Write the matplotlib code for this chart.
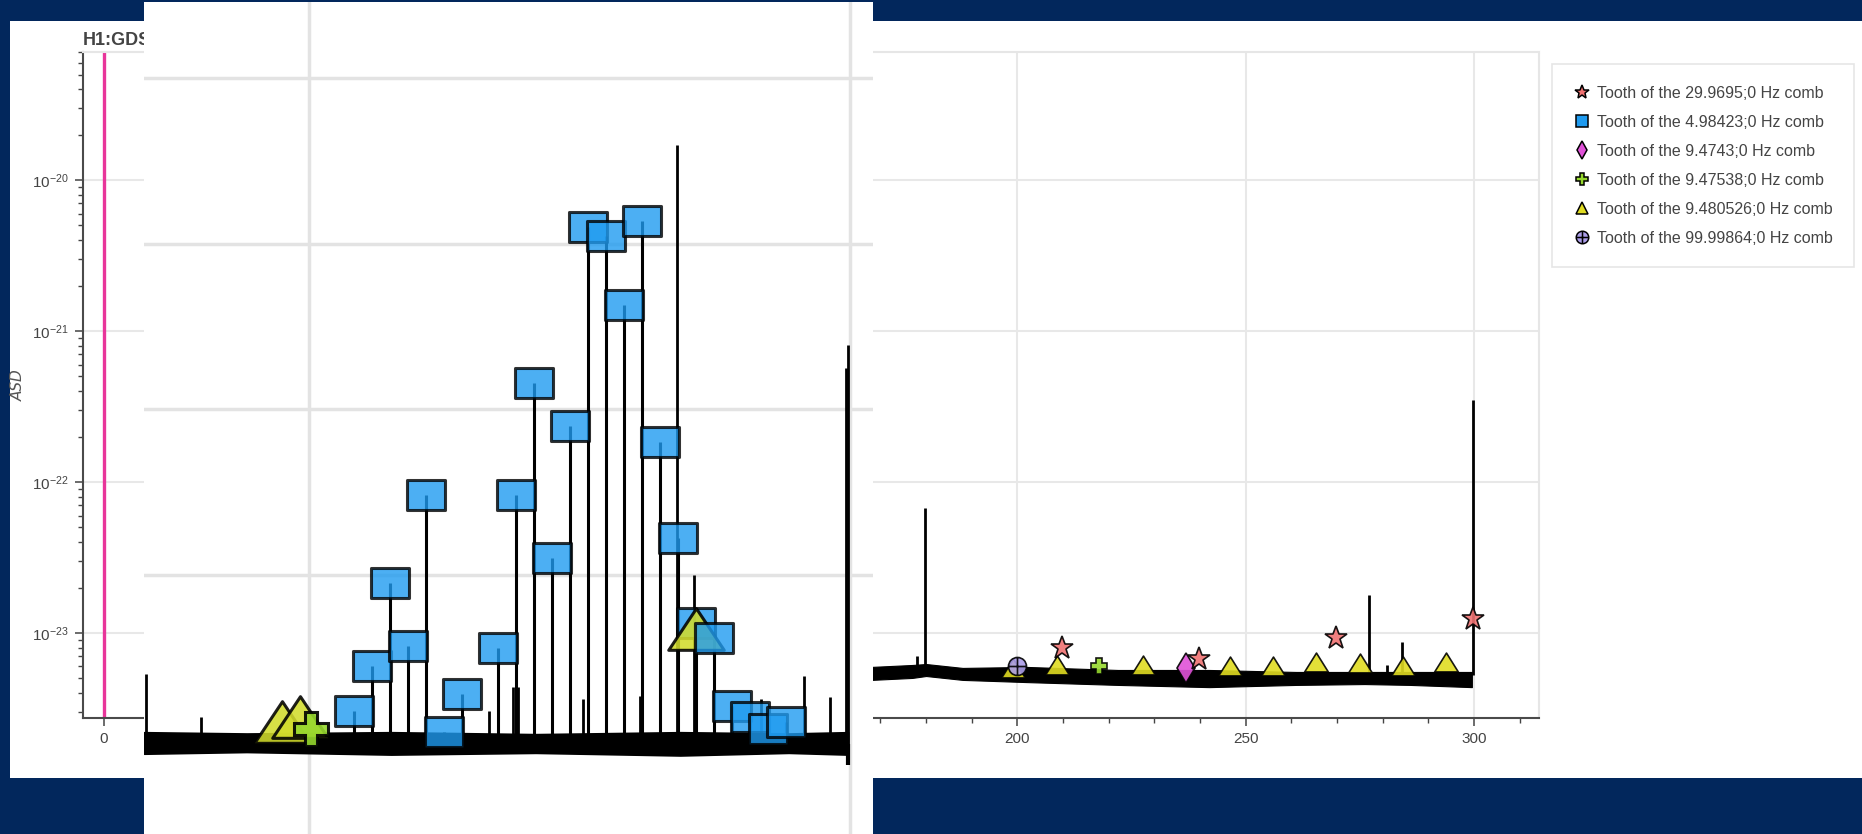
import matplotlib
matplotlib.use("Agg")
import matplotlib.pyplot as plt
from matplotlib.lines import Line2D
from matplotlib.patches import Rectangle
from matplotlib.path import Path
from matplotlib.ticker import FixedLocator, NullFormatter, NullLocator

plt.rcParams["font.family"] = ["Liberation Sans", "DejaVu Sans"]

# ---- main panel: H1 spectrum, right-hand part (Hz, strain ASD) ----
band_freq = [168, 177, 180, 188, 202, 222, 242, 261, 276, 286, 299.5]
band_upper = [5.96e-24, 6.14e-24, 6.23e-24, 5.87e-24, 5.96e-24, 5.69e-24, 5.69e-24, 5.52e-24, 5.52e-24, 5.52e-24, 5.52e-24]
band_lower = [4.89e-24, 5.04e-24, 5.19e-24, 4.89e-24, 4.73e-24, 4.53e-24, 4.38e-24, 4.53e-24, 4.59e-24, 4.53e-24, 4.38e-24]
line_freq = [178.1, 179.8, 276.9, 281.0, 284.2, 299.8]
line_peak = [7.08e-24, 6.76e-23, 1.78e-23, 6.17e-24, 8.71e-24, 3.47e-22]

comb_299_freq = [209.79, 239.76, 269.73, 299.70]
comb_299_asd = [7.94e-24, 6.76e-24, 9.33e-24, 1.23e-23]
comb_9474_freq = [236.86]
comb_9474_asd = [5.89e-24]
comb_9475_freq = [217.93]
comb_9475_asd = [6.03e-24]
comb_9481_freq = [199.09, 208.57, 227.53, 246.49, 255.97, 265.45, 274.93, 284.42, 293.90]
comb_9481_asd = [5.89e-24, 6.17e-24, 6.17e-24, 6.03e-24, 6.03e-24, 6.46e-24, 6.31e-24, 6.03e-24, 6.46e-24]
comb_100_freq = [199.997]
comb_100_asd = [6.03e-24]

x_major = [0, 50, 100, 150, 200, 250, 300]
x_minor = [10, 20, 30, 40, 60, 70, 80, 90, 110, 120, 130, 140, 160, 170, 180, 190,
           210, 220, 230, 240, 260, 270, 280, 290, 310]
y_major = [1e-23, 1e-22, 1e-21, 1e-20]
y_minor = [m * d for d in (1e-24, 1e-23, 1e-22, 1e-21, 1e-20) for m in range(2, 10)]

# ---- zoomed snapshot pasted over the left part ----
zoom_teeth = [20, 21, 22, 23, 24, 25, 26, 28, 29, 30, 31, 32, 33, 34, 35, 36, 37, 38, 39, 40, 41, 42, 43, 44]
zoom_tooth_asd = [1.51e-24, 2.82e-24, 8.91e-24, 3.72e-24, 3.02e-23, 1.12e-24, 1.91e-24, 3.63e-24,
                  3.02e-23, 1.45e-22, 1.26e-23, 7.94e-23, 1.26e-21, 1.12e-21, 4.27e-22, 1.38e-21,
                  6.31e-23, 1.66e-23, 5.13e-24, 4.17e-24, 1.62e-24, 1.38e-24, 1.17e-24, 1.29e-24]
zoom_spacing = 4.98423
zoom_band_freq = [41.6, 70, 110, 150, 190, 220, 236.4]
zoom_band_upper = [1.12e-24, 1.10e-24, 1.12e-24, 1.09e-24, 1.12e-24, 1.10e-24, 1.12e-24]
zoom_band_lower = [8.3e-25, 8.5e-25, 8.2e-25, 8.4e-25, 8.1e-25, 8.4e-25, 8.2e-25]
zoom_line_freq = [42.07, 57.37, 137.1, 143.7, 145.0, 163.2, 178.9, 189.1, 193.9, 212.2, 224.2, 231.4, 235.7, 236.4]
zoom_line_peak = [2.51e-24, 1.38e-24, 1.51e-24, 2.09e-24, 2.09e-24, 1.78e-24, 1.86e-24, 3.98e-21,
                  1.0e-23, 1.78e-24, 2.45e-24, 1.82e-24, 1.78e-22, 2.45e-22]
zoom_dip_freq = [236.4]
zoom_dip_asd = [7.1e-25]
zoom_tri_freq = [79.8, 84.8, 194.3]
zoom_tri_asd = [1.29e-24, 1.38e-24, 4.68e-24]
zoom_plus_freq = [87.8]
zoom_plus_asd = [1.17e-24]
zoom_grid_x = [87.3, 236.9]
zoom_grid_y = [1e-23, 1e-22, 1e-21, 1e-20]

legend_labels = [
    "Tooth of the 29.9695;0 Hz comb",
    "Tooth of the 4.98423;0 Hz comb",
    "Tooth of the 9.4743;0 Hz comb",
    "Tooth of the 9.47538;0 Hz comb",
    "Tooth of the 9.480526;0 Hz comb",
    "Tooth of the 99.99864;0 Hz comb",
]

NAVY = "#02275c"
C_STAR = "#f07272"
C_SQ = "#1f9bf0"
C_DIA = "#e052d8"
C_PLUS = "#96d82e"
C_TRI = "#e0dc22"
C_CIRC = "#ab9de8"

rect_marker = Path([(-1, -0.78), (1, -0.78), (1, 0.78), (-1, 0.78), (-1, -0.78)],
                   [Path.MOVETO, Path.LINETO, Path.LINETO, Path.LINETO, Path.CLOSEPOLY])
wide_tri = Path([(-1, -0.75), (1, -0.75), (0, 0.75), (-1, -0.75)],
                [Path.MOVETO, Path.LINETO, Path.LINETO, Path.CLOSEPOLY])
small_tri = Path([(-1, -0.8), (1, -0.8), (0, 0.8), (-1, -0.8)],
                 [Path.MOVETO, Path.LINETO, Path.LINETO, Path.CLOSEPOLY])
circle_cross = Path.make_compound_path(
    Path.unit_circle(),
    Path([(-1, 0), (1, 0)], [Path.MOVETO, Path.LINETO]),
    Path([(0, -1), (0, 1)], [Path.MOVETO, Path.LINETO]),
)

fig = plt.figure(figsize=(18.62, 8.34), dpi=100, facecolor=NAVY)
fig.add_artist(Rectangle((10 / 1862, 56 / 834), 1.0, 757 / 834, transform=fig.transFigure,
                         facecolor="white", edgecolor="none", zorder=0))

ax = fig.add_axes([83 / 1862, 116 / 834, 1456 / 1862, 666 / 834])
ax.set_zorder(1)
ax.set_yscale("log")
ax.set_xlim(-4.6, 314.2)
ax.set_ylim(10 ** -23.563, 10 ** -19.152)

ax.fill_between(band_freq, band_lower, band_upper, color="black", lw=0.8, zorder=2)
ax.vlines(line_freq, 5.3e-24, line_peak, color="black", lw=2.0, zorder=2)
ax.axvline(0, color="#e8359a", lw=2.4, zorder=2)

mk = dict(linestyle="none", markeredgecolor="black", markeredgewidth=1.2, alpha=0.9)
ax.plot(comb_9481_freq, comb_9481_asd, marker=small_tri, ms=17, color=C_TRI, zorder=3, **mk)
ax.plot(comb_9474_freq, comb_9474_asd, marker="d", ms=15, color=C_DIA, zorder=4, **mk)
ax.plot(comb_9475_freq, comb_9475_asd, marker="P", ms=12, color=C_PLUS, zorder=4, **mk)
ax.plot(comb_100_freq, comb_100_asd, marker=circle_cross, ms=13, color=C_CIRC, zorder=5, **mk)
ax.plot(comb_299_freq, comb_299_asd, marker="*", ms=17, color=C_STAR, zorder=5, **mk)

ax.set_title("H1:GDS-CALIB_STRAIN", loc="left", fontsize=13, fontweight="bold", color="#444444", pad=6)
ax.set_ylabel("ASD", fontsize=11, fontstyle="oblique", family=["DejaVu Sans"], color="#555555")
ax.yaxis.set_label_coords(-0.0395, 0.5)

ax.xaxis.set_major_locator(FixedLocator(x_major))
ax.xaxis.set_minor_locator(FixedLocator(x_minor))
ax.yaxis.set_major_locator(FixedLocator(y_major))
ax.yaxis.set_minor_locator(FixedLocator(y_minor))
ax.yaxis.set_minor_formatter(NullFormatter())
ax.xaxis.set_minor_formatter(NullFormatter())
ax.tick_params(axis="both", which="major", length=6, width=1.1, color="#444444",
               labelsize=11, labelcolor="#444444", pad=4)
ax.tick_params(axis="both", which="minor", length=3.5, width=1.0, color="#444444")
ax.grid(True, which="major", color="#e8e8e8", lw=1.5, zorder=0)
ax.set_axisbelow(True)
for side in ("left", "bottom"):
    ax.spines[side].set_color("#4a4a4a")
    ax.spines[side].set_linewidth(1.5)
for side in ("top", "right"):
    ax.spines[side].set_color("#e6e6e6")
    ax.spines[side].set_linewidth(1.5)

# ---- inset snapshot ----
axi = fig.add_axes([144 / 1862, 0, 729 / 1862, 832 / 834])
axi.set_zorder(5)
axi.set_facecolor("white")
axi.set_yscale("log")
axi.set_xlim(41.6, 243.3)
axi.set_ylim(10 ** -24.566, 10 ** -19.538)
for s in axi.spines.values():
    s.set_visible(False)
axi.xaxis.set_major_locator(FixedLocator(zoom_grid_x))
axi.yaxis.set_major_locator(FixedLocator(zoom_grid_y))
axi.yaxis.set_minor_locator(NullLocator())
axi.xaxis.set_minor_locator(NullLocator())
axi.xaxis.set_major_formatter(NullFormatter())
axi.yaxis.set_major_formatter(NullFormatter())
axi.tick_params(which="both", length=0, labelbottom=False, labelleft=False)
axi.grid(True, which="major", color="#e3e3e3", lw=2.5)
axi.set_axisbelow(True)

tooth_freq = [n * zoom_spacing for n in zoom_teeth]
axi.fill_between(zoom_band_freq, zoom_band_lower, zoom_band_upper, color="black", lw=1.2, zorder=2)
axi.vlines(tooth_freq, 9.5e-25, zoom_tooth_asd, color="black", lw=2.2, zorder=2)
axi.vlines(zoom_line_freq, 9.5e-25, zoom_line_peak, color="black", lw=2.0, zorder=2)
axi.vlines(zoom_dip_freq, zoom_dip_asd, 9.5e-25, color="black", lw=3, zorder=2)

# the 40th tooth sits in front of the triangle in the snapshot, the rest behind it
back = [i for i, n in enumerate(zoom_teeth) if n != 40]
front = [i for i, n in enumerate(zoom_teeth) if n == 40]

mk_in = dict(linestyle="none", markeredgecolor="black", markeredgewidth=2.2)
axi.plot([tooth_freq[i] for i in back], [zoom_tooth_asd[i] for i in back], marker=rect_marker,
         ms=27.4, color=C_SQ, alpha=0.8, zorder=3, **mk_in)
axi.plot(zoom_tri_freq, zoom_tri_asd, marker=wide_tri, ms=40, color="#d2dc2c", alpha=0.88, zorder=4, **mk_in)
axi.plot(zoom_plus_freq, zoom_plus_asd, marker="P", ms=24, color=C_PLUS, alpha=0.9, zorder=5, **mk_in)
axi.plot([tooth_freq[i] for i in front], [zoom_tooth_asd[i] for i in front], marker=rect_marker,
         ms=27.4, color=C_SQ, alpha=0.8, zorder=6, **mk_in)

# ---- legend ----
lk = dict(linestyle="none", markeredgecolor="black", markeredgewidth=1.1)
handles = [
    Line2D([], [], marker="*", ms=10, color=C_STAR, **lk),
    Line2D([], [], marker="s", ms=8, color=C_SQ, **lk),
    Line2D([], [], marker="d", ms=9, color=C_DIA, **lk),
    Line2D([], [], marker="P", ms=9, color=C_PLUS, **lk),
    Line2D([], [], marker="^", ms=8, color=C_TRI, **lk),
    Line2D([], [], marker=circle_cross, ms=9, color=C_CIRC, **lk),
]
leg = fig.legend(handles, legend_labels, loc="upper left", bbox_to_anchor=(1552 / 1862, 1 - 64 / 834),
                 bbox_transform=fig.transFigure, fontsize=11.5, labelspacing=0.88, handlelength=1.0,
                 handletextpad=0.45, borderpad=1.35, borderaxespad=0, fancybox=False,
                 edgecolor="#e6e6e6", framealpha=1, labelcolor="#444444")
leg.get_frame().set_linewidth(1.2)

fig.savefig("out.png", dpi=100, facecolor=NAVY)
